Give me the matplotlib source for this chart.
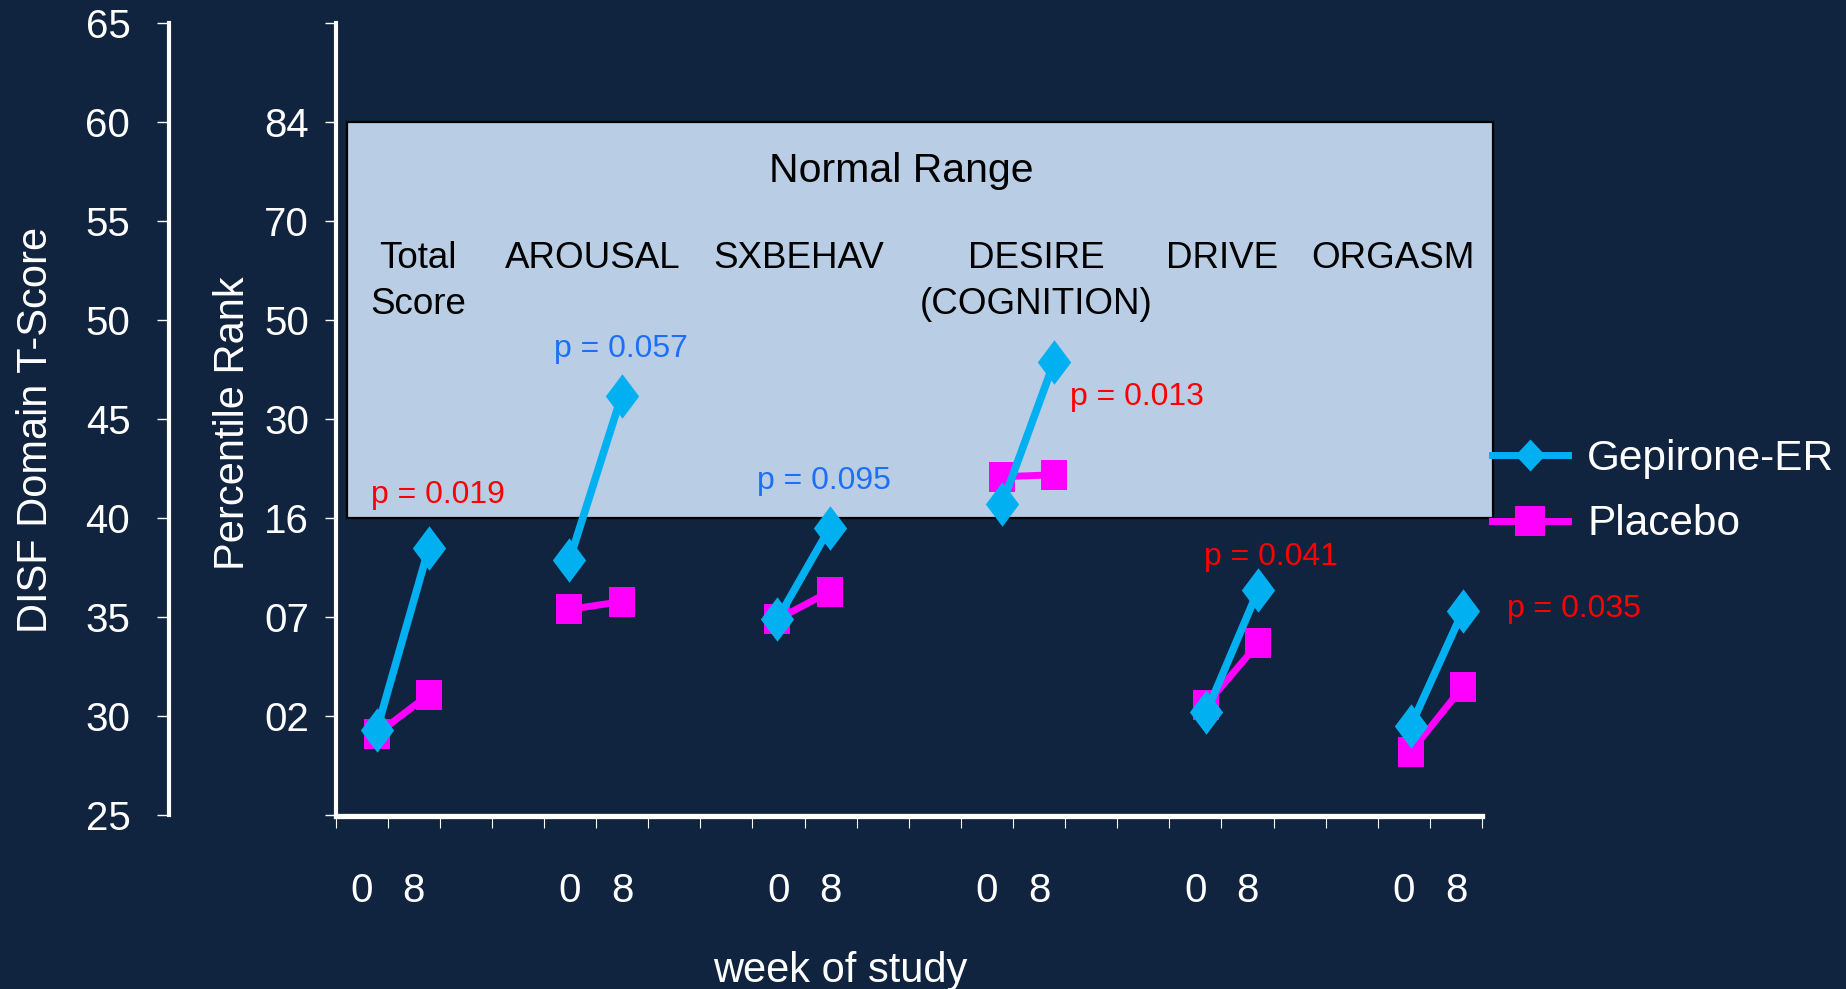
import matplotlib
matplotlib.use('Agg')
import matplotlib.pyplot as plt
from matplotlib.lines import Line2D
from matplotlib.patches import Rectangle

plt.rcParams['font.family'] = ['Liberation Sans', 'DejaVu Sans']

# ---------------- data ----------------
domains = ['Total\nScore', 'AROUSAL', 'SXBEHAV', 'DESIRE\n(COGNITION)', 'DRIVE', 'ORGASM']
weeks = ['0', '8']
domain_slot = [0, 4, 8, 12, 16, 20]            # first category slot of each domain
point_shift = [0.29, -0.01, -0.02, 0.29, 0.21, 0.13]
gepirone = [[29.3, 38.5], [37.9, 46.2], [34.9, 39.5], [40.7, 47.9], [30.2, 36.4], [29.5, 35.3]]
placebo = [[29.1, 31.1], [35.4, 35.8], [34.9, 36.3], [42.1, 42.2], [30.6, 33.7], [28.2, 31.5]]
p_values = ['p = 0.019', 'p = 0.057', 'p = 0.095', 'p = 0.013', 'p = 0.041', 'p = 0.035']
p_colors = ['#FF0000', '#1C6FF8', '#1C6FF8', '#FF0000', '#FF0000', '#FF0000']
p_pos = [(1.47, 40.75), (4.97, 48.13), (8.87, 41.48), (14.88, 45.73), (17.46, 37.64), (23.26, 35.0)]
label_x = [1.08, 4.43, 8.39, 12.94, 16.52, 19.79]
t_ticks = [25, 30, 35, 40, 45, 50, 55, 60, 65]
t_labels = ['25', '30', '35', '40', '45', '50', '55', '60', '65']
pct_labels = ['', '02', '07', '16', '30', '50', '70', '84', '']
normal_range = (40, 60)
n_slots = 22

BG = '#10233F'
CYAN = '#00B0F0'
MAG = '#FF00FF'
BOX = '#B9CDE5'

W, H = 1846, 989
fig = plt.figure(figsize=(W / 100, H / 100), dpi=100, facecolor=BG)

def fx(px):
    return px / W

def fy(py):
    return 1 - py / H

ax_bottom, ax_top = 815.5, 23.1
ax_left, ax_right = 335.5, 1482.0
ax = fig.add_axes([fx(ax_left), fy(ax_bottom), fx(ax_right) - fx(ax_left), fy(ax_top) - fy(ax_bottom)])
ax.set_facecolor('none')
ax.set_xlim(-0.5, n_slots - 0.5)
ax.set_ylim(25, 65)

for s in ['top', 'right']:
    ax.spines[s].set_visible(False)
ax.spines['left'].set_color('white')
ax.spines['left'].set_linewidth(3.0)
ax.spines['bottom'].set_color('white')
ax.spines['bottom'].set_linewidth(3.8)

# y ticks: percentile rank labels at T-score positions
ax.set_yticks(t_ticks)
ax.set_yticklabels(pct_labels)
ax.tick_params(axis='y', direction='out', length=8, width=1, colors='white',
               labelsize=29, pad=11)

# x ticks: boundaries (major) and week labels (minor)
ax.set_xticks([i - 0.5 for i in range(n_slots + 1)])
ax.set_xticklabels([])
ax.tick_params(axis='x', which='major', direction='out', length=8.6, width=0.8, colors='white')
minor_pos, minor_lab = [], []
for s in domain_slot:
    for j, w in enumerate(weeks):
        minor_pos.append(s + j)
        minor_lab.append(w)
ax.set_xticks(minor_pos, minor=True)
ax.set_xticklabels(minor_lab, minor=True)
ax.tick_params(axis='x', which='minor', length=0, labelsize=29, labelcolor='white', pad=41)

# Left DISF T-score axis
axL = fig.add_axes([fx(168.7), fy(ax_bottom), 0.0005, fy(ax_top) - fy(ax_bottom)])
axL.set_facecolor('none')
axL.set_ylim(25, 65)
for s in ['top', 'right', 'bottom']:
    axL.spines[s].set_visible(False)
axL.spines['left'].set_color('white')
axL.spines['left'].set_linewidth(3.0)
axL.set_xticks([])
axL.set_yticks(t_ticks)
axL.set_yticklabels(t_labels)
axL.tick_params(axis='y', direction='out', length=8.6, width=1, colors='white',
                labelsize=29, pad=19)

# Normal range box
ax.add_patch(Rectangle((-0.28, normal_range[0]), 21.99, normal_range[1] - normal_range[0],
                       facecolor=BOX, edgecolor='black', linewidth=1.6, zorder=1, clip_on=False))
ax.text(10.35, 56.99, 'Normal Range', ha='center', va='baseline', fontsize=29.5,
        color='black', zorder=2)
for x, lab in zip(label_x, domains):
    for k, line in enumerate(lab.split('\n')):
        ax.text(x, 52.63 - k * 2.32, line, ha='center', va='baseline', fontsize=26.5,
                color='black', zorder=2)

# markers
diamond = [(0, 1), (0.75, 0), (0, -1), (-0.75, 0)]
rect = [(-0.914, -1), (0.914, -1), (0.914, 1), (-0.914, 1)]

for i, s in enumerate(domain_slot):
    xs = [s + point_shift[i], s + 1 + point_shift[i]]
    ax.plot(xs, placebo[i], color=MAG, lw=5, marker=rect, markersize=20.9,
            markeredgewidth=0, zorder=3, clip_on=False)
for i, s in enumerate(domain_slot):
    xs = [s + point_shift[i], s + 1 + point_shift[i]]
    ax.plot(xs, gepirone[i], color=CYAN, lw=5.5, marker=diamond, markersize=32,
            markeredgewidth=0, zorder=4, clip_on=False)

for (x, y), t, c in zip(p_pos, p_values, p_colors):
    ax.text(x, y, t, ha='center', va='baseline', fontsize=23, color=c, zorder=5, clip_on=False)

# axis labels
fig.text(fx(36), fy(430), 'DISF Domain T-Score', rotation=90, ha='center', va='center',
         fontsize=30, color='white')
fig.text(fx(233), fy(423), 'Percentile Rank', rotation=90, ha='center', va='center',
         fontsize=30, color='white')
fig.text(fx(840), fy(981.7), 'week of study', ha='center', va='baseline', fontsize=30,
         color='white')

# legend
diamond_leg = [(0, 1), (0.94, 0), (0, -1), (-0.94, 0)]
handles = [Line2D([], [], color=CYAN, lw=5, marker=diamond_leg, markersize=23, markeredgewidth=0),
           Line2D([], [], color=MAG, lw=5, marker='s', markersize=21, markeredgewidth=0)]
fig.legend(handles, ['Gepirone-ER', 'Placebo'], loc='upper left',
           bbox_to_anchor=(fx(1492), fy(439)), frameon=False, fontsize=30.5,
           handlelength=1.8, handletextpad=0.45, labelspacing=0.6, borderpad=0,
           borderaxespad=0, labelcolor='white')

fig.savefig('out.png', dpi=100, facecolor=BG)
